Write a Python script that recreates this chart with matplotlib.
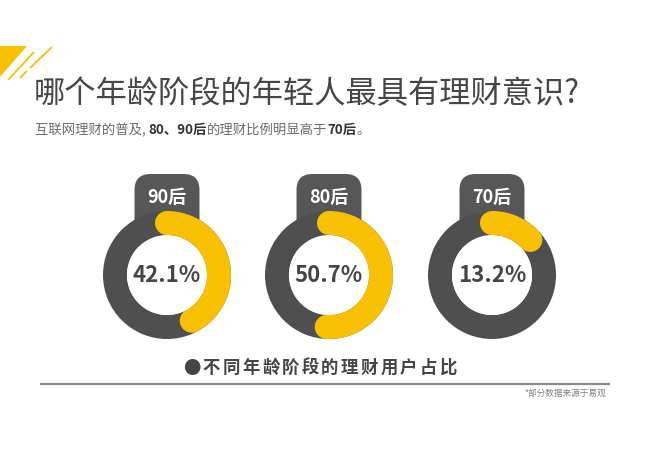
import numpy as np
import matplotlib
matplotlib.use('Agg')
import matplotlib.pyplot as plt
from matplotlib.patches import Wedge, Circle, FancyBboxPatch, Polygon

plt.rcParams['font.family'] = ['Noto Sans CJK SC', 'DejaVu Sans']

#--data
groups   = ['90后', '80后', '70后']
shares   = [42.1, 50.7, 13.2]
title    = '哪个年龄阶段的年轻人最具有理财意识?'
subtitle = [('互联网理财的普及, ', 'normal'), ('80、90后', 'bold'),
            ('的理财比例明显高于', 'normal'), ('70后', 'bold'), ('。', 'normal')]
caption  = '●不同年龄阶段的理财用户占比'
source   = '*部分数据来源于易观'

W, H = 650, 459
dark   = '#4f4f4f'
tabc   = '#575757'
yellow = '#f7c000'
txtc   = '#454545'

fig = plt.figure(figsize=(W/100., H/100.), dpi=100)
ax = fig.add_axes([0, 0, 1, 1])
ax.set_xlim(0, W)
ax.set_ylim(0, H)
ax.axis('off')

def Y(y): return H - y

#--corner decoration
ax.add_patch(Polygon([(0, Y(46)), (27, Y(46)), (0, Y(77))], closed=True, color=yellow, lw=0))
ax.plot([34, 8], [Y(52), Y(80)], color=yellow, lw=1.3, solid_capstyle='butt')
ax.plot([52, 30], [Y(47), Y(68)], color=yellow, lw=1.3, solid_capstyle='butt')
ax.plot([27, 20], [Y(71), Y(78)], color=yellow, lw=1.3, solid_capstyle='butt')

#--title
ax.text(34, Y(94), title, fontsize=22.5, color='#464646', va='center', ha='left')

#--subtitle with mixed weights
fig.canvas.draw()
r = fig.canvas.get_renderer()
x = 35
for s, w in subtitle:
    t = ax.text(x, Y(130), s, fontsize=9.6, fontweight=w, va='center', ha='left',
                color='#333333' if w == 'bold' else '#6a6a6a')
    bb = t.get_window_extent(renderer=r)
    x += bb.width

#--donuts
centers = [167, 329, 492]
cy = 275
R, wid = 64, 24
for cx, g, p in zip(centers, groups, shares):
    #--tab
    ax.add_patch(FancyBboxPatch((cx-32.5, Y(250)), 65, 76,
                 boxstyle='round,pad=0,rounding_size=16', fc=tabc, ec='none', zorder=1))
    ax.text(cx, Y(197), g, fontsize=13, fontweight='bold', color='white',
            ha='center', va='center', zorder=2)
    #--ring
    ax.add_patch(Wedge((cx, Y(cy)), R, 0, 360, width=wid, fc=dark, ec='none', zorder=3))
    ax.add_patch(Circle((cx, Y(cy)), R-wid, fc='white', ec='none', zorder=3))
    #--arc
    a0 = 90 - p/100.*360
    ax.add_patch(Wedge((cx, Y(cy)), R, a0, 90, width=wid, fc=yellow, ec='none', zorder=4))
    rm = R - wid/2.
    for a in [a0, 90]:
        ax.add_patch(Circle((cx + rm*np.cos(np.radians(a)), Y(cy) + rm*np.sin(np.radians(a))),
                            wid/2., fc=yellow, ec='none', zorder=4))
    ax.text(cx, Y(cy), '%.1f%%' % p, fontsize=16, fontweight='bold', color=txtc,
            ha='center', va='center', zorder=5)

#--caption with letter spacing
pitch = 19.7
for i, ch in enumerate(caption):
    ax.text(182 + i*pitch + pitch/2., Y(368), ch, fontsize=12.5, fontweight='bold',
            color=txtc, ha='center', va='center')

ax.plot([40, 610], [Y(384), Y(384)], color='#8a8a8a', lw=1.6, solid_capstyle='butt')
ax.text(606, Y(393), source, fontsize=6.2, color='#808080', ha='right', va='center')

fig.savefig('out.png', dpi=100, facecolor='white')
